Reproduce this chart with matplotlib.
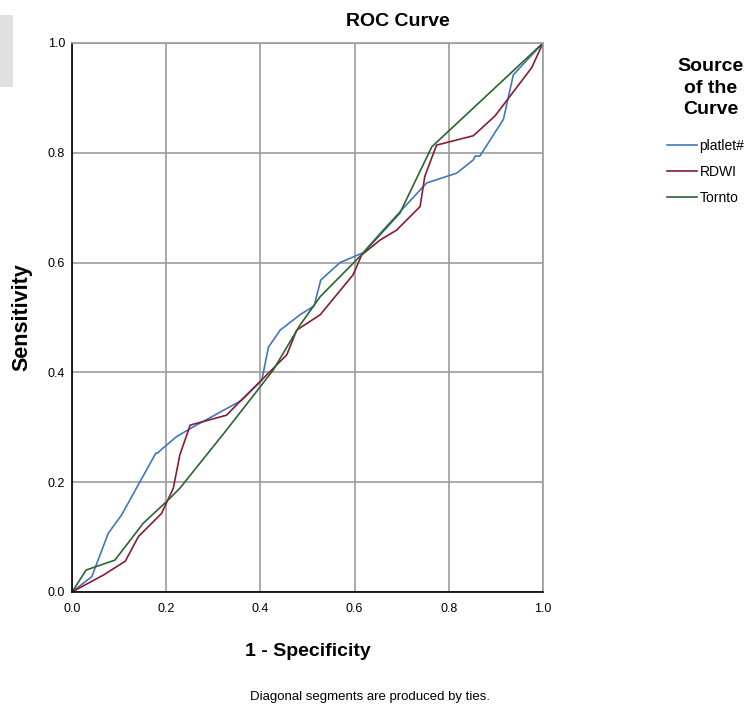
import matplotlib.pyplot as plt
import matplotlib.patches as patches

plt.rcParams['font.family'] = ['Liberation Sans', 'DejaVu Sans']

# ROC curve points (1 - specificity, sensitivity)
platelet_x = [0.0, 0.042, 0.077, 0.105, 0.178, 0.182, 0.189, 0.222, 0.258, 0.360, 0.403,
              0.417, 0.442, 0.484, 0.514, 0.528, 0.569, 0.618, 0.654, 0.700, 0.753,
              0.817, 0.852, 0.856, 0.866, 0.916, 0.937, 1.0]
platelet_y = [0.0, 0.028, 0.107, 0.140, 0.253, 0.253, 0.259, 0.283, 0.301, 0.349, 0.386,
              0.446, 0.477, 0.505, 0.521, 0.568, 0.600, 0.618, 0.653, 0.696, 0.745,
              0.763, 0.787, 0.794, 0.794, 0.861, 0.942, 1.0]

rdwi_x = [0.0, 0.067, 0.113, 0.141, 0.190, 0.215, 0.229, 0.251, 0.328, 0.360, 0.399,
          0.456, 0.477, 0.527, 0.597, 0.615, 0.654, 0.689, 0.739, 0.749, 0.774,
          0.852, 0.898, 0.976, 1.0]
rdwi_y = [0.0, 0.031, 0.056, 0.101, 0.143, 0.189, 0.250, 0.304, 0.322, 0.350, 0.383,
          0.432, 0.477, 0.505, 0.578, 0.614, 0.641, 0.659, 0.702, 0.757, 0.814,
          0.831, 0.867, 0.955, 1.0]

tornto_x = [0.0, 0.030, 0.091, 0.151, 0.201, 0.229, 0.328, 0.427, 0.484, 0.527, 0.618,
            0.696, 0.764, 1.0]
tornto_y = [0.0, 0.040, 0.058, 0.125, 0.165, 0.189, 0.295, 0.404, 0.486, 0.538, 0.617,
            0.690, 0.811, 1.0]

series = [
    ('platlet#', platelet_x, platelet_y, '#4277bd'),
    ('RDWI', rdwi_x, rdwi_y, '#861c36'),
    ('Tornto', tornto_x, tornto_y, '#2b652b'),
]

ticks = [0.0, 0.2, 0.4, 0.6, 0.8, 1.0]

fig = plt.figure(figsize=(7.55, 7.07), dpi=100)
ax = fig.add_axes([0.0954, 0.1627, 0.6238, 0.7765])

for name, xs, ys, col in series:
    ax.plot(xs, ys, color=col, linewidth=1.2, label=name)

ax.set_xlim(0, 1)
ax.set_ylim(0, 1)
ax.set_xticks(ticks)
ax.set_yticks(ticks)
ax.set_xticklabels(['%.1f' % t for t in ticks])
ax.set_yticklabels(['%.1f' % t for t in ticks])
ax.tick_params(length=0, labelsize=9)
ax.tick_params(axis='x', pad=8)
ax.tick_params(axis='y', pad=5)
ax.grid(True, color='#9c9c9c', linewidth=1.2)
ax.set_axisbelow(True)
for s in ['top', 'right']:
    ax.spines[s].set_color('#9c9c9c')
    ax.spines[s].set_linewidth(1.2)
for s in ['left', 'bottom']:
    ax.spines[s].set_color('black')
    ax.spines[s].set_linewidth(1.2)

fig.text(0.527, 0.969, 'ROC Curve', fontsize=14, fontweight='bold',
         ha='center', va='center')
fig.text(0.029, 0.5516, 'Sensitivity', rotation=90, fontsize=15.5, fontweight='bold',
         ha='center', va='center')
fig.text(0.408, 0.078, '1 - Specificity', fontsize=14, fontweight='bold',
         ha='center', va='center')
fig.text(0.49, 0.014, 'Diagonal segments are produced by ties.', fontsize=9.5,
         ha='center', va='center')

# legend
fig.text(0.941, 0.8755, 'Source\nof the\nCurve', fontsize=14, fontweight='bold',
         ha='center', va='center', linespacing=1.38)
leg = ax.legend(loc='upper left', bbox_to_anchor=(1.263, 0.825), frameon=False,
                fontsize=10, handlelength=2.15, handletextpad=0.2, labelspacing=0.85,
                borderpad=0, borderaxespad=0)

# grey block in the top-left corner
fig.patches.append(patches.Rectangle((0, 0.877), 0.017, 0.102, transform=fig.transFigure,
                                     facecolor='#e0e0e0', edgecolor='none'))

fig.savefig('out.png', dpi=100)
